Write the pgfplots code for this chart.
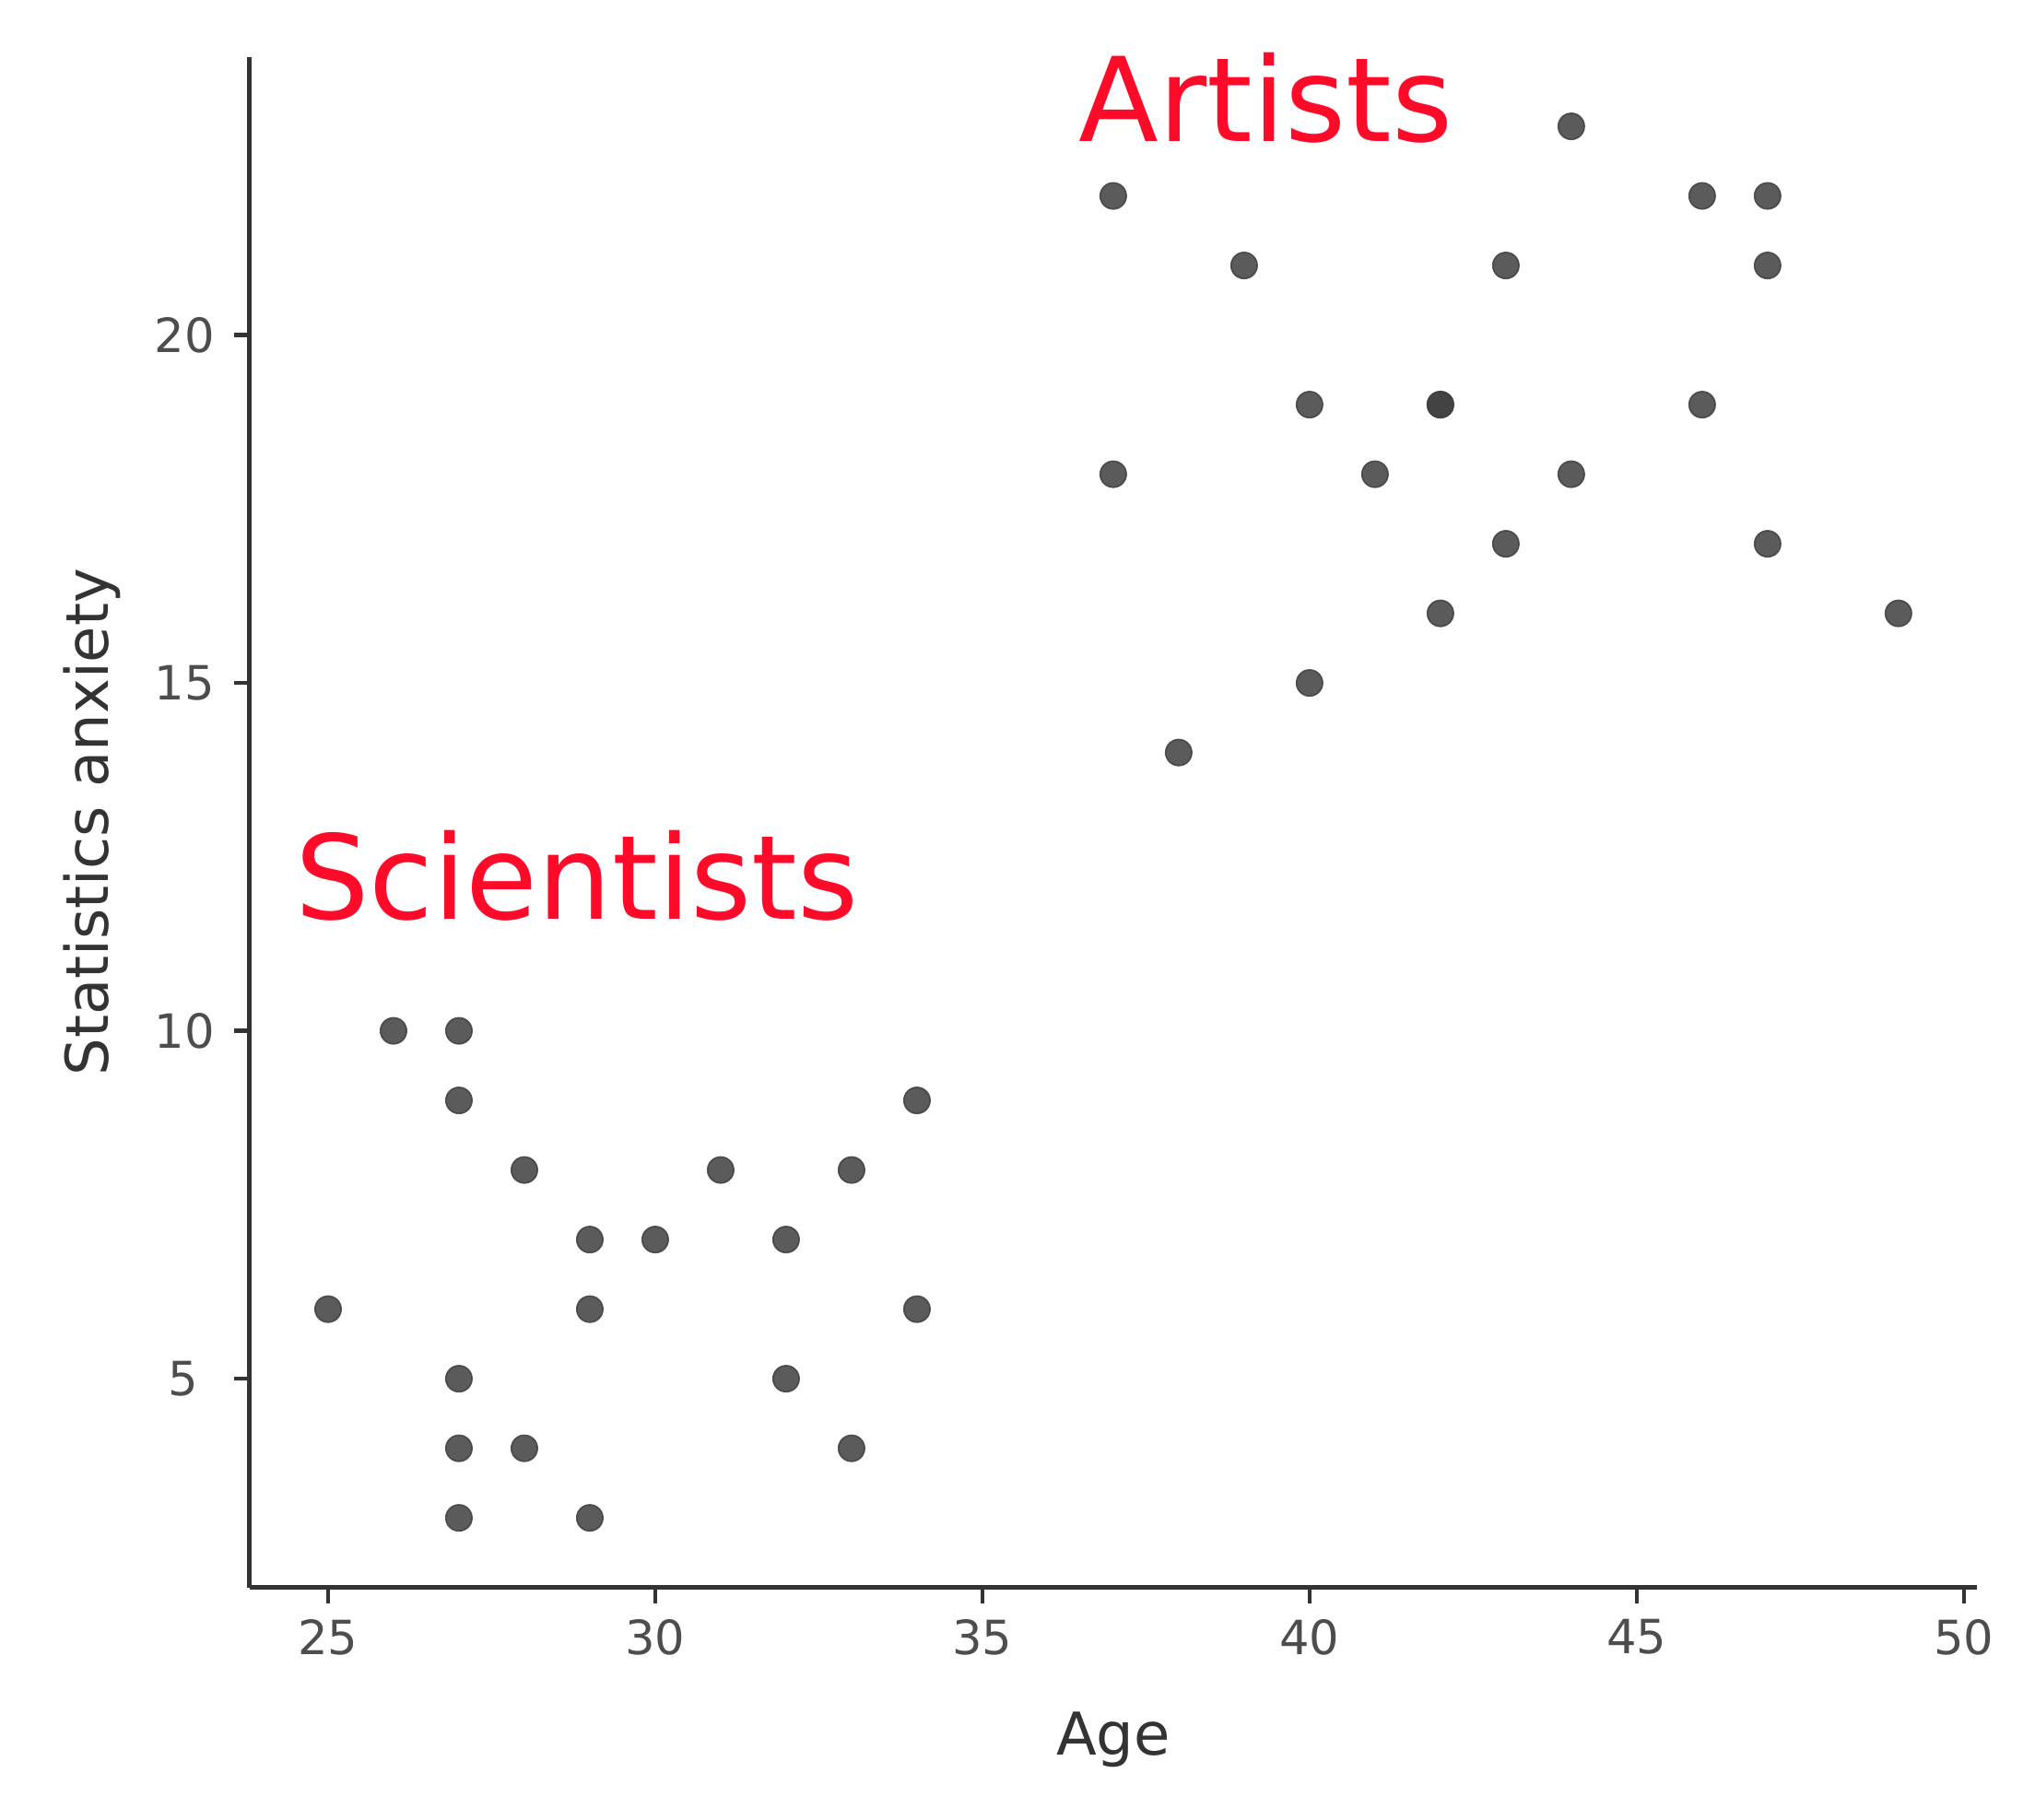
\documentclass[border=0pt]{standalone}
\usepackage{pgfplots}
\pgfplotsset{compat=1.18}
\usepackage{fontspec}
\setmainfont{DejaVu Sans}
\definecolor{annred}{RGB}{255,10,40}
\definecolor{ptcol}{RGB}{62,62,62}
\definecolor{axcol}{RGB}{51,51,51}
\definecolor{tickcol}{RGB}{77,77,77}
\begin{document}
\begin{tikzpicture}
\useasboundingbox (-67.7pt,-63pt) rectangle (484.35pt,430.7pt);
\begin{axis}[
  scale only axis,
  width=468.6pt, height=415.3pt,
  xmin=23.8, xmax=50.2, ymin=2, ymax=24,
  axis lines=left,
  axis line style={-, draw=axcol, line width=1.15pt},
  tick align=outside,
  major tick length=4.25pt,
  tick style={draw=axcol, line width=1.15pt},
  xtick={25,30,35,40,45,50},
  ytick={5,10,15,20},
  yticklabels={{5\rule{4.6pt}{0pt}},10,15,20},
  /pgf/number format/assume math mode=true,
  ticklabel style={font=\fontsize{12.8pt}{15pt}\selectfont, text=tickcol, inner sep=0pt},
  xticklabel style={anchor=north, yshift=-4.2pt},
  yticklabel style={anchor=east, xshift=-5pt},
  xlabel={Age},
  ylabel={Statistics anxiety},
  every axis x label/.style={at={(axis description cs:0.5,-0.1096)}, anchor=base, font=\fontsize{16pt}{19pt}\selectfont, text=axcol},
  every axis y label/.style={at={(axis description cs:-0.0820,0.5)}, rotate=90, anchor=base, font=\fontsize{16pt}{19pt}\selectfont, text=axcol},
  clip=false,
]
\addplot[only marks, mark=*, mark size=3.55pt,
  mark options={draw=ptcol, fill=ptcol, opacity=0.85, line width=0.4pt}]
  coordinates {
  (25,6) (26,10) (27,10) (27,9) (27,5) (27,4) (27,3) (28,8) (28,4)
  (29,7) (29,6) (29,3) (30,7) (31,8) (32,7) (32,5) (33,8) (33,4)
  (34,9) (34,6)
  (37,22) (37,18) (38,14) (39,21) (40,19) (40,15) (41,18) (42,19) (42,19)
  (42,16) (43,21) (43,17) (44,23) (44,18) (46,22) (46,19) (47,22) (47,21)
  (47,17) (49,16)
  };
\node[anchor=base, text=annred, font=\fontsize{31.7pt}{38pt}\selectfont, inner sep=0pt] at (axis cs:39.33,22.78) {Artists};
\node[anchor=base, text=annred, font=\fontsize{31.7pt}{38pt}\selectfont, inner sep=0pt] at (axis cs:28.80,11.60) {Scientists};
\end{axis}
\end{tikzpicture}
\end{document}
